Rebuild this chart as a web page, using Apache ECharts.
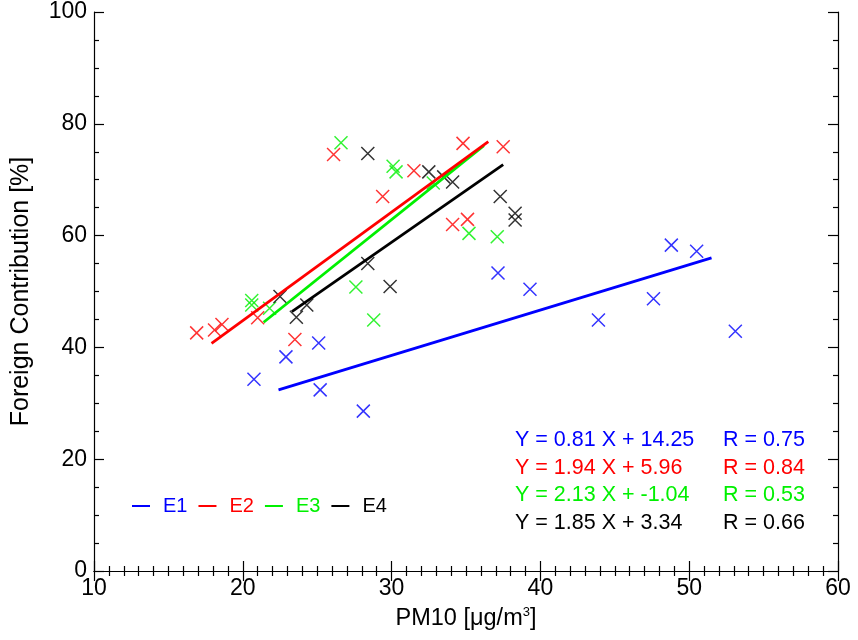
<!DOCTYPE html>
<html>
<head>
<meta charset="utf-8">
<script src="https://cdn.jsdelivr.net/npm/echarts@6/dist/echarts.min.js"></script>
<style>
  html, body { margin: 0; padding: 0; background: #fff; }
  #chart { width: 858px; height: 640px; }
</style>
</head>
<body>
<div id="chart"></div>
<script>
// group names and colours
var groups = ['E1', 'E2', 'E3', 'E4'];
var colors = ['#0000ff', '#ff0000', '#00f000', '#000000'];

// scatter points [PM10, foreign contribution]
var e1Points = [[20.75, 34.3], [22.9, 38.3], [25.1, 40.8], [25.2, 32.4], [28.1, 28.6], [37.15, 53.3],
  [39.3, 50.4], [43.9, 44.9], [47.6, 48.7], [48.8, 58.3], [50.5, 57.2], [53.1, 42.9]];
var e2Points = [[16.9, 42.6], [18.1, 43.1], [18.6, 44.1], [21.0, 45.3], [23.5, 41.4], [26.1, 74.5],
  [29.4, 67.0], [31.5, 71.6], [34.8, 76.5], [37.5, 75.9], [34.1, 62.0], [35.1, 62.9]];
var e3Points = [[26.6, 76.6], [30.1, 72.4], [30.3, 71.4], [20.6, 48.4], [20.6, 47.6], [21.8, 47.0],
  [27.6, 50.8], [28.8, 44.9], [32.8, 69.4], [35.2, 60.4], [37.1, 59.8]];
var e4Points = [[28.4, 74.7], [22.5, 49.1], [24.3, 47.6], [23.6, 45.4], [28.4, 55.0], [29.9, 50.9],
  [32.5, 71.4], [33.5, 70.5], [34.1, 69.6], [37.3, 67.0], [38.3, 64.0], [38.3, 62.8]];

// fit line end points
var e1Fit = [[22.4, 32.4], [51.5, 56.0]];
var e2Fit = [[17.9, 40.7], [36.5, 76.8]];
var e3Fit = [[21.4, 44.5], [36.2, 76.1]];
var e4Fit = [[23.3, 46.4], [37.5, 72.7]];

// equation texts
var equations = ['Y = 0.81 X + 14.25', 'Y = 1.94 X + 5.96', 'Y = 2.13 X + -1.04', 'Y = 1.85 X + 3.34'];
var rValues = ['R = 0.75', 'R = 0.84', 'R = 0.53', 'R = 0.66'];

var allPoints = [e1Points, e2Points, e3Points, e4Points];
var allFits = [e1Fit, e2Fit, e3Fit, e4Fit];

var font = 'Liberation Sans, Arial, Helvetica, sans-serif';
var chart = echarts.init(document.getElementById('chart'));

var series = [];
groups.forEach(function (g, i) {
  series.push({
    name: g + ' points',
    type: 'scatter',
    data: allPoints[i],
    symbol: 'path://M0,0L10,10M10,0L0,10',
    symbolSize: 13,
    itemStyle: { color: 'transparent', borderColor: colors[i], borderWidth: 1.5 },
    emphasis: { disabled: true },
    z: 3
  });
});
//線畫在點上面
[3, 0, 2, 1].forEach(function (i) {
  series.push({
    name: groups[i],
    type: 'line',
    data: allFits[i],
    showSymbol: false,
    color: colors[i],
    lineStyle: { width: 2.8, color: colors[i] },
    emphasis: { disabled: true },
    z: 4
  });
});

var graphics = [];
equations.forEach(function (t, i) {
  graphics.push({
    type: 'text', x: 515, y: 440 + i * 27.7,
    style: { text: t, fill: colors[i], font: '21.5px ' + font, verticalAlign: 'middle' }
  });
  graphics.push({
    type: 'text', x: 723, y: 440 + i * 27.7,
    style: { text: rValues[i], fill: colors[i], font: '21.5px ' + font, verticalAlign: 'middle' }
  });
});

var tickStyle = { color: '#000', width: 1.2 };
var option = {
  animation: false,
  textStyle: { fontFamily: font },
  grid: { left: 94, right: 20, top: 12, bottom: 69 },
  legend: {
    left: 132, top: 496, padding: 0,
    icon: 'rect', itemWidth: 18, itemHeight: 2, itemGap: 11,
    data: groups.map(function (g, i) {
      return { name: g, textStyle: { color: colors[i], fontSize: 20, padding: [0, 0, 0, 8] } };
    })
  },
  xAxis: [{
    type: 'value', min: 10, max: 60, interval: 10,
    name: '{a|PM10 [μg/m}{s|3}{a|]}', nameLocation: 'middle', nameGap: 35,
    nameTextStyle: {
      rich: {
        a: { fontSize: 23.5, color: '#000', fontFamily: font },
        s: { fontSize: 13, color: '#000', fontFamily: font, verticalAlign: 'bottom', padding: [0, 0, 12, 0] }
      }
    },
    axisLine: { lineStyle: tickStyle },
    axisTick: { inside: true, length: 10, lineStyle: tickStyle },
    minorTick: { show: true, splitNumber: 10, length: 5, lineStyle: tickStyle },
    axisLabel: { fontSize: 23, color: '#000', margin: 6 },
    splitLine: { show: false }
  }, {
    type: 'value', min: 10, max: 60, interval: 10, position: 'top',
    axisLine: { lineStyle: tickStyle },
    axisTick: { inside: true, length: 10, lineStyle: tickStyle },
    minorTick: { show: true, splitNumber: 10, length: 5, lineStyle: tickStyle },
    axisLabel: { show: false },
    splitLine: { show: false }
  }],
  yAxis: [{
    type: 'value', min: 0, max: 100, interval: 20,
    name: 'Foreign Contribution [%]', nameLocation: 'middle', nameGap: 60,
    nameTextStyle: { fontSize: 25, color: '#000' },
    axisLine: { lineStyle: tickStyle },
    axisTick: { inside: true, length: 10, lineStyle: tickStyle },
    minorTick: { show: true, splitNumber: 4, length: 5, lineStyle: tickStyle },
    axisLabel: { fontSize: 23, color: '#000', margin: 7 },
    splitLine: { show: false }
  }, {
    type: 'value', min: 0, max: 100, interval: 20, position: 'right',
    axisLine: { lineStyle: tickStyle },
    axisTick: { inside: true, length: 10, lineStyle: tickStyle },
    minorTick: { show: true, splitNumber: 4, length: 5, lineStyle: tickStyle },
    axisLabel: { show: false },
    splitLine: { show: false }
  }],
  series: series,
  graphic: graphics
};
chart.setOption(option);
</script>
</body>
</html>
